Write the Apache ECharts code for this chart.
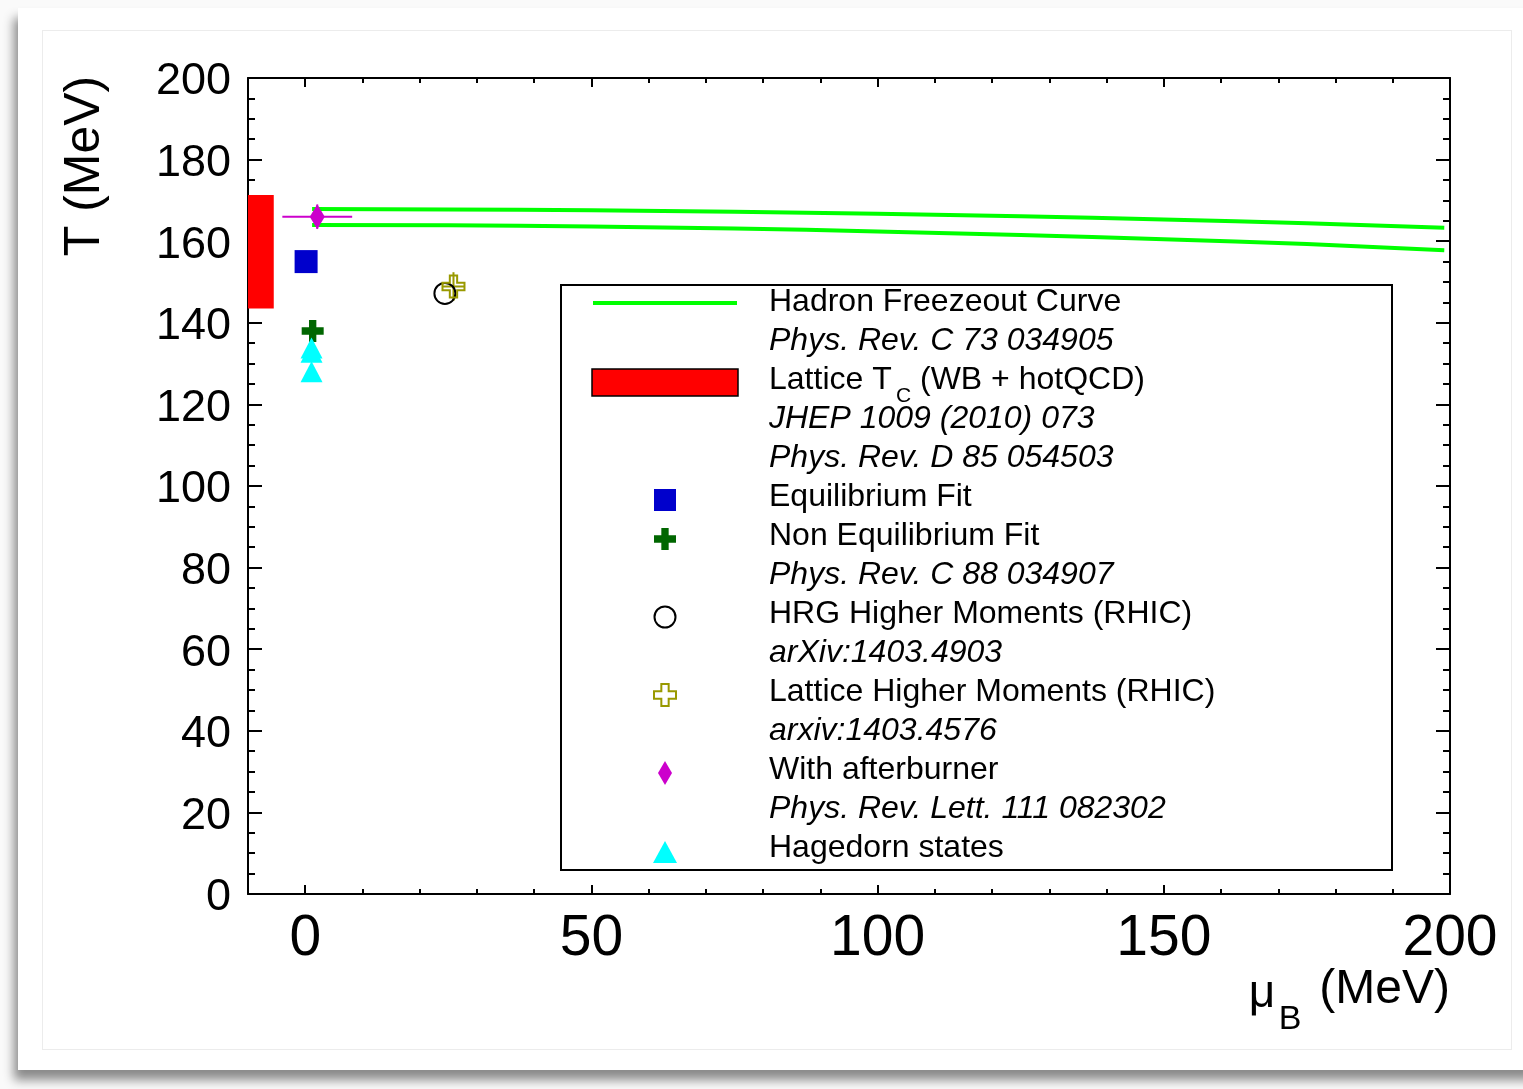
<!DOCTYPE html>
<html><head><meta charset="utf-8">
<script src="https://cdn.jsdelivr.net/npm/echarts@6/dist/echarts.min.js"></script>
<style>
html,body{margin:0;padding:0;background:#fafafa;width:1523px;height:1089px;overflow:hidden;}
#card{position:absolute;left:18px;top:8px;width:1520px;height:1062px;background:#fff;box-shadow:-4px 10px 10px rgba(0,0,0,0.45);}
#inner{position:absolute;left:42px;top:30px;width:1468px;height:1018px;border:1px solid #ececec;}
#chart{position:absolute;left:0;top:0;width:1523px;height:1089px;}
</style></head><body>
<div id="card"></div><div id="inner"></div><div id="chart"></div>
<script>
// ---- data ----
const xMajorTicks = [0, 50, 100, 150, 200];
const xMinorTicks = [10, 20, 30, 40, 60, 70, 80, 90, 110, 120, 130, 140, 160, 170, 180, 190];
const freezeoutUpper = [[1.2,167.9],[25,167.8],[50,167.6],[75,167.2],[100,166.7],[125,166.1],[150,165.3],[175,164.4],[199,163.3]];
const freezeoutLower = [[1.2,164.0],[25,163.9],[50,163.6],[75,163.1],[100,162.4],[125,161.5],[150,160.5],[175,159.3],[199,157.8]];
const latticeTc = [[-10, -5.5, 143.5, 171.3]];          // muMin, muMax, Tlow, Thigh
const equilibriumFit = [[0.15, 155.0]];
const nonEquilibriumFit = [[1.3, 138.0]];
const hrgMoments = [[24.4, 147.2]];
const latticeMoments = [[25.9, 148.9]];
const latticeMomentsErr = [[25.9, 148.9, 2.0, 3.5]];    // mu, T, dMu, dT
const afterburner = [[2.1, 166.0]];
const afterburnerErr = [[2.1, 166.0, 6.1, 3.0]];
const hagedorn = [[1.1, 133.8], [1.1, 132.8], [1.1, 128.0]];

const legendRows = [
  {text:'Hadron Freezeout Curve', italic:false},
  {text:'Phys. Rev. C 73 034905', italic:true},
  {text:'', italic:false},
  {text:'JHEP 1009 (2010) 073', italic:true},
  {text:'Phys. Rev. D 85 054503', italic:true},
  {text:'Equilibrium Fit', italic:false},
  {text:'Non Equilibrium Fit', italic:false},
  {text:'Phys. Rev. C 88 034907', italic:true},
  {text:'HRG Higher Moments (RHIC)', italic:false},
  {text:'arXiv:1403.4903', italic:true},
  {text:'Lattice Higher Moments (RHIC)', italic:false},
  {text:'arxiv:1403.4576', italic:true},
  {text:'With afterburner', italic:false},
  {text:'Phys. Rev. Lett. 111 082302', italic:true},
  {text:'Hagedorn states', italic:false}
];

const FONT = 'Liberation Sans, Arial, Helvetica, sans-serif';
const C = {green:'#00ff00', red:'#ff0000', blue:'#0000cc', dgreen:'#006600', olive:'#999900', magenta:'#cc00cc', cyan:'#00ffff'};
const plusPath = 'path://M8,0H16V8H24V16H16V24H8V16H0V8H8Z';

const chart = echarts.init(document.getElementById('chart'), null, {renderer:'canvas'});

function errRender(color){
  return function(params, api){
    const x = api.value(0), y = api.value(1), dx = api.value(2), dy = api.value(3);
    const l = api.coord([x-dx, y]), r = api.coord([x+dx, y]);
    const t = api.coord([x, y+dy]), b = api.coord([x, y-dy]);
    return {type:'group', children:[
      {type:'line', shape:{x1:l[0],y1:l[1],x2:r[0],y2:r[1]}, style:{stroke:color, lineWidth:2}},
      {type:'line', shape:{x1:t[0],y1:t[1],x2:b[0],y2:b[1]}, style:{stroke:color, lineWidth:2}}
    ]};
  };
}

const tickLine = {color:'#000', width:2};
function xAxisDef(pos, ticks, len, withLine, withLabels){
  return {
    type:'value', min:-10, max:200, position:pos,
    axisLine:{show:withLine, onZero:false, lineStyle:tickLine},
    splitLine:{show:false},
    axisTick:{show:true, inside:true, length:len, customValues:ticks, lineStyle:tickLine},
    axisLabel:{show:withLabels, customValues:ticks, fontSize:57, color:'#000', fontFamily:FONT, margin:17}
  };
}
function yAxisDef(pos, withLabels){
  return {
    type:'value', min:0, max:200, interval:20, position:pos,
    axisLine:{show:true, onZero:false, lineStyle:tickLine},
    splitLine:{show:false},
    axisTick:{show:true, inside:true, length:14, lineStyle:tickLine},
    minorTick:{show:true, splitNumber:4, length:7, lineStyle:tickLine},
    minorSplitLine:{show:false},
    axisLabel:{show:withLabels, color:'#000', margin:17, formatter:'{v|{value}}',
      rich:{v:{fontSize:45, color:'#000', fontFamily:FONT, padding:[8,0,0,0]}}}
  };
}

// legend graphics
const LX = 769, ROW0 = 302, ROWH = 39, LFS = 32;
const gfx = [];
gfx.push({type:'rect', shape:{x:561, y:285, width:831, height:585}, style:{fill:'#fff', stroke:'#000', lineWidth:2}, z:10});
legendRows.forEach((r, i) => {
  if (!r.text) return;
  gfx.push({type:'text', x:LX, y:ROW0 + i*ROWH, z:11,
    style:{text:r.text, fontSize:LFS, fontFamily:FONT, fontStyle:r.italic?'italic':'normal', fill:'#000', verticalAlign:'middle', align:'left'}});
});
// Lattice T_C row (row index 2)
const yT = ROW0 + 2*ROWH;
gfx.push({type:'text', x:LX, y:yT, z:11, style:{text:'Lattice T', fontSize:LFS, fontFamily:FONT, fill:'#000', verticalAlign:'middle'}});
gfx.push({type:'text', x:896, y:yT+16, z:11, style:{text:'C', fontSize:21, fontFamily:FONT, fill:'#000', verticalAlign:'middle'}});
gfx.push({type:'text', x:920, y:yT, z:11, style:{text:'(WB + hotQCD)', fontSize:LFS, fontFamily:FONT, fill:'#000', verticalAlign:'middle'}});
// legend symbols
const MX = 665;
gfx.push({type:'line', shape:{x1:593, y1:303, x2:737, y2:303}, style:{stroke:C.green, lineWidth:4}, z:11});
gfx.push({type:'rect', shape:{x:592, y:369, width:146, height:27}, style:{fill:C.red, stroke:'#000', lineWidth:1.5}, z:11});
gfx.push({type:'rect', shape:{x:MX-11, y:489, width:22, height:22}, style:{fill:C.blue}, z:11});
function plusPts(cx, cy, s){ const a=s/2, b=s/6; return [[cx-b,cy-a],[cx+b,cy-a],[cx+b,cy-b],[cx+a,cy-b],[cx+a,cy+b],[cx+b,cy+b],[cx+b,cy+a],[cx-b,cy+a],[cx-b,cy+b],[cx-a,cy+b],[cx-a,cy-b],[cx-b,cy-b]]; }
gfx.push({type:'polygon', shape:{points:plusPts(MX, 539, 22)}, style:{fill:C.dgreen}, z:11});
gfx.push({type:'circle', shape:{cx:MX, cy:617, r:10.5}, style:{fill:'none', stroke:'#000', lineWidth:2}, z:11});
gfx.push({type:'polygon', shape:{points:plusPts(MX, 695, 22)}, style:{fill:'none', stroke:C.olive, lineWidth:2}, z:11});
gfx.push({type:'polygon', shape:{points:[[MX,761],[MX+7,773],[MX,785],[MX-7,773]]}, style:{fill:C.magenta}, z:11});
gfx.push({type:'polygon', shape:{points:[[MX,841],[MX+12,863],[MX-12,863]]}, style:{fill:C.cyan}, z:11});
// axis titles
gfx.push({type:'text', x:85, y:166, rotation:Math.PI/2, z:11,
  style:{text:'T (MeV)', fontSize:50, fontFamily:FONT, fill:'#000', align:'center', verticalAlign:'middle'}});
gfx.push({type:'text', x:1450, y:990, z:11, style:{text:'(MeV)', fontSize:48, fontFamily:FONT, fill:'#000', align:'right', verticalAlign:'middle'}});
gfx.push({type:'text', x:1262, y:994, z:11, style:{text:'μ', fontSize:46, fontFamily:FONT, fill:'#000', align:'center', verticalAlign:'middle'}});
gfx.push({type:'text', x:1290, y:1020, z:11, style:{text:'B', fontSize:34, fontFamily:FONT, fill:'#000', align:'center', verticalAlign:'middle'}});

const solid = (c) => ({color:c, opacity:1});
const option = {
  animation:false,
  backgroundColor:'transparent',
  grid:{left:248, top:78, right:73, bottom:195, containLabel:false, outerBoundsMode:'none'},
  xAxis:[
    xAxisDef('bottom', xMajorTicks, 9, true, true),
    xAxisDef('bottom', xMinorTicks, 5, false, false),
    xAxisDef('top', xMajorTicks, 9, true, false),
    xAxisDef('top', xMinorTicks, 5, false, false)
  ],
  yAxis:[ yAxisDef('left', true), yAxisDef('right', false) ],
  series:[
    {type:'custom', name:'Lattice Tc', data:latticeTc, encode:{x:[0,1], y:[2,3]}, z:2,
      renderItem:function(params, api){
        const p1 = api.coord([api.value(0), api.value(3)]);
        const p2 = api.coord([api.value(1), api.value(2)]);
        return {type:'rect', shape:{x:p1[0], y:p1[1], width:p2[0]-p1[0], height:p2[1]-p1[1]}, style:{fill:C.red}};
      }},
    {type:'line', name:'Freezeout upper', data:freezeoutUpper, smooth:true, showSymbol:false, symbol:'none', lineStyle:{color:C.green, width:4}, z:3},
    {type:'line', name:'Freezeout lower', data:freezeoutLower, smooth:true, showSymbol:false, symbol:'none', lineStyle:{color:C.green, width:4}, z:3},
    {type:'scatter', name:'Equilibrium Fit', data:equilibriumFit, symbol:'rect', symbolSize:23, itemStyle:solid(C.blue), z:4},
    {type:'scatter', name:'Non Equilibrium Fit', data:nonEquilibriumFit, symbol:plusPath, symbolSize:22, itemStyle:solid(C.dgreen), z:4},
    {type:'scatter', name:'Hagedorn states', data:hagedorn, symbol:'triangle', symbolSize:[22,21], itemStyle:solid(C.cyan), z:4},
    {type:'scatter', name:'HRG Higher Moments', data:hrgMoments, symbol:'circle', symbolSize:21, itemStyle:{color:'rgba(0,0,0,0)', borderColor:'#000', borderWidth:2, opacity:1}, z:4},
    {type:'custom', name:'Lattice HM err', data:latticeMomentsErr, encode:{x:0, y:1}, renderItem:errRender(C.olive), z:4},
    {type:'scatter', name:'Lattice Higher Moments', data:latticeMoments, symbol:plusPath, symbolSize:22, itemStyle:{color:'rgba(0,0,0,0)', borderColor:C.olive, borderWidth:2, opacity:1}, z:5},
    {type:'custom', name:'Afterburner err', data:afterburnerErr, encode:{x:0, y:1}, renderItem:errRender(C.magenta), z:5},
    {type:'scatter', name:'With afterburner', data:afterburner, symbol:'diamond', symbolSize:[15,25], itemStyle:solid(C.magenta), z:6}
  ],
  graphic:gfx
};
chart.setOption(option);
</script>
</body></html>
